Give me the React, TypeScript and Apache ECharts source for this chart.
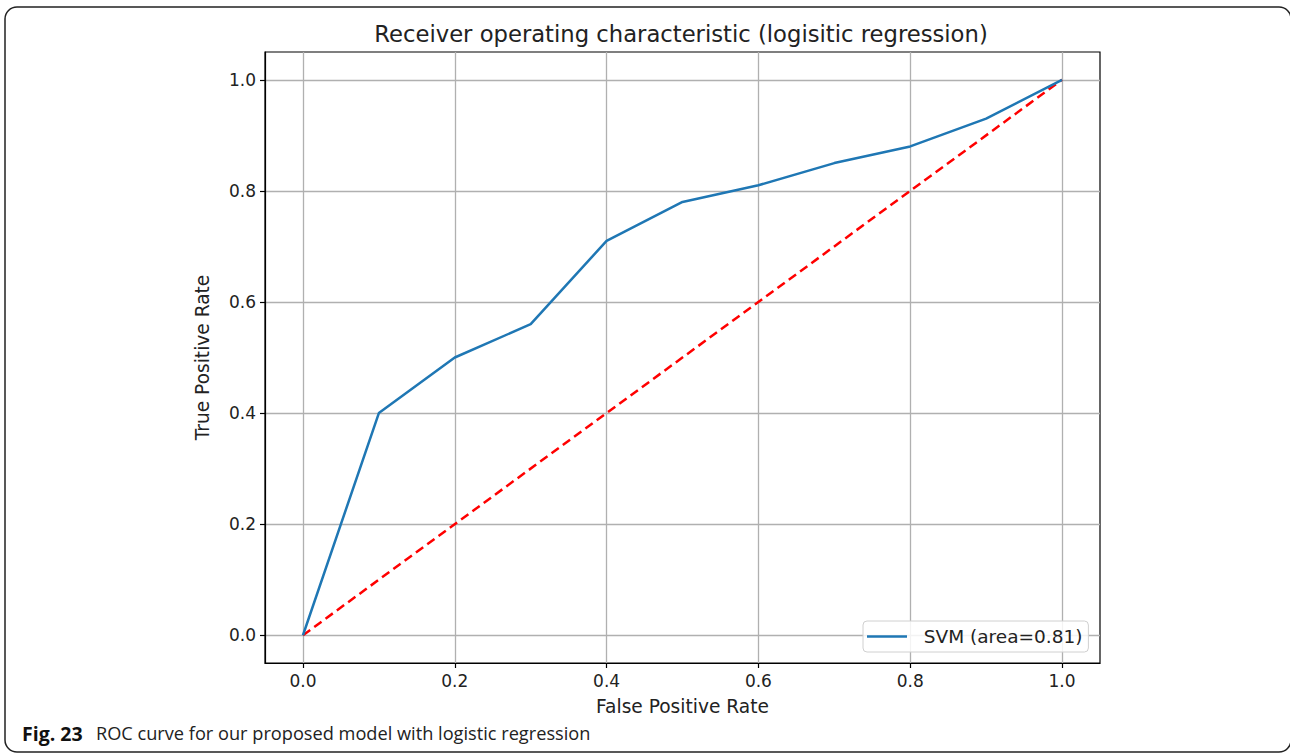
import React, { useEffect, useRef } from "react";
import * as echarts from "echarts";

const fprValues = [0, 0.1, 0.2, 0.3, 0.4, 0.5, 0.6, 0.7, 0.8, 0.9, 1.0];
const tprValues = [0, 0.4, 0.5, 0.56, 0.71, 0.78, 0.81, 0.85, 0.88, 0.93, 1.0];
const chanceX = [0, 1];
const chanceY = [0, 1];
const tickValues = [0, 0.2, 0.4, 0.6, 0.8, 1.0];
const seriesName = "SVM (area=0.81)";
const titleText = "Receiver operating characteristic (logisitic regression)";
const xName = "False Positive Rate";
const yName = "True Positive Rate";
const captionBold = "Fig. 23";
const captionText = "ROC curve for our proposed model with logistic regression";

const FONT = "DejaVu Sans";

export default function App() {
  const ref = useRef<HTMLDivElement>(null);
  useEffect(() => {
    if (!ref.current) return;
    const chart = echarts.init(ref.current, null, { renderer: "svg" });
    const axisCommon = {
      type: "value",
      min: -0.05,
      max: 1.05,
      axisLine: { show: true, onZero: false, lineStyle: { color: "#000", width: 1.2 } },
      axisTick: { show: true, customValues: tickValues, length: 5, lineStyle: { color: "#000", width: 1.2 } },
      axisLabel: {
        customValues: tickValues,
        formatter: (v: number) => v.toFixed(1),
        fontFamily: FONT,
        fontSize: 17,
        color: "#222",
        margin: 9,
      },
      splitLine: { show: true, lineStyle: { color: "#b0b0b0", width: 1.3 } },
      nameLocation: "middle",
      nameTextStyle: { fontFamily: FONT, fontSize: 18.6, color: "#222" },
    };
    chart.setOption({
      animation: false,
      backgroundColor: "#fff",
      title: {
        text: titleText,
        left: 676,
        top: 17,
        textAlign: "center",
        textStyle: { fontFamily: FONT, fontSize: 22.7, fontWeight: "normal", color: "#222" },
      },
      grid: {
        left: 265,
        right: 190,
        top: 52,
        bottom: 91,
        show: true,
        borderColor: "#000",
        borderWidth: 1.2,
        containLabel: false,
      },
      xAxis: { ...axisCommon, name: xName, nameGap: 34 },
      yAxis: { ...axisCommon, name: yName, nameGap: 53 },
      legend: {
        data: [{ name: seriesName, icon: "rect" }],
        formatter: (n: string) => "  " + n,
        left: 863,
        top: 621,
        itemWidth: 40,
        itemHeight: 2.5,
        padding: [6, 6, 6, 4],
        borderColor: "#d0d0d0",
        borderWidth: 1,
        borderRadius: 4,
        backgroundColor: "rgba(255,255,255,0.85)",
        textStyle: { fontFamily: FONT, fontSize: 18.5, color: "#222" },
      },
      series: [
        {
          name: seriesName,
          type: "line",
          data: fprValues.map((x, i) => [x, tprValues[i]]),
          showSymbol: false,
          symbol: "none",
          lineStyle: { color: "#1f77b4", width: 2.5 },
          itemStyle: { color: "#1f77b4" },
          z: 3,
        },
        {
          name: "chance",
          type: "line",
          data: chanceX.map((x, i) => [x, chanceY[i]]),
          showSymbol: false,
          symbol: "none",
          lineStyle: { color: "#ff0000", width: 2.5, type: [9, 5] },
          z: 2,
        },
      ],
      graphic: [
        {
          type: "rect",
          shape: { x: 5, y: 7, width: 1286, height: 745, r: 12 },
          style: { fill: "none", stroke: "#222", lineWidth: 1.5 },
          silent: true,
        },
        {
          type: "text",
          left: 22,
          top: 723,
          style: {
            text: `{b|${captionBold}}    {n|${captionText}}`,
            rich: {
              b: { fontFamily: "Open Sans", fontWeight: "bold", fontSize: 19.5, fill: "#111" },
              n: { fontFamily: "Open Sans", fontSize: 18.2, fill: "#222" },
            },
          },
        },
      ],
    });
    return () => chart.dispose();
  }, []);
  return (
    <div
      ref={ref}
      style={{ position: "absolute", left: 0, top: 0, width: 1290, height: 754 }}
    />
  );
}
